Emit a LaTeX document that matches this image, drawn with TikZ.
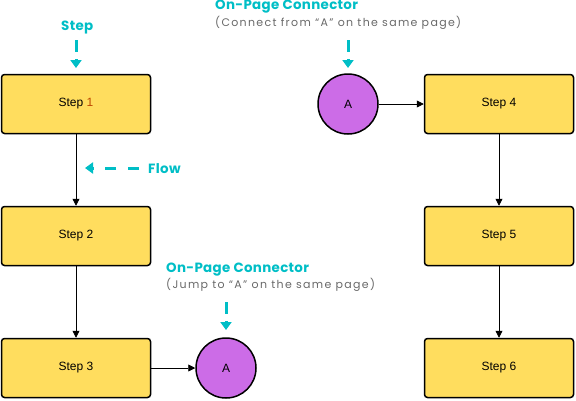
\documentclass[tikz,border=0pt]{standalone}
\usepackage{fontspec}
\setmainfont{Liberation Sans}
\newfontfamily\subfont[LetterSpace=12]{Poppins}
\newfontfamily\titlefont[LetterSpace=2.5]{Poppins}
\usetikzlibrary{arrows.meta}

\definecolor{stepfill}{RGB}{255,221,94}
\definecolor{connfill}{RGB}{204,108,231}
\definecolor{notecyan}{RGB}{0,190,198}
\definecolor{notegray}{RGB}{105,105,105}
\definecolor{onecolor}{RGB}{190,70,0}

\tikzset{
	stepbox/.style={draw, line width=1.5pt, rounded corners=3pt, fill=stepfill,
		minimum width=149pt, minimum height=59pt, font=\fontsize{12}{14}\selectfont},
	connector/.style={draw, circle, line width=1.5pt, fill=connfill,
		minimum size=60pt, inner sep=0pt, font=\fontsize{12}{14}\selectfont},
	flow/.style={-{Triangle[length=7pt, width=7pt]}, line width=0.8pt},
	notetitle/.style={text=notecyan, font=\titlefont\bfseries\fontsize{13.4}{15}\selectfont,
		inner sep=0pt, anchor=base west},
	notesub/.style={text=notegray, font=\subfont\fontsize{11}{13}\selectfont,
		inner sep=0pt, anchor=base west},
	hint/.style={draw=notecyan, line width=3pt, dash pattern=on 12pt off 7pt,
		-{Triangle[length=8pt, width=11pt, fill=notecyan]}},
}

\begin{document}
\begin{tikzpicture}[x=1pt, y=-1pt]

	\useasboundingbox (0,0) rectangle (576,400);

% steps %{{{2

	\node[stepbox] (step1) at (76,104) {Step \textcolor{onecolor}{1}};
	\node[stepbox] (step2) at (76,236) {Step 2};
	\node[stepbox] (step3) at (76,368) {Step 3};

	\node[stepbox] (step4) at (499,104) {Step 4};
	\node[stepbox] (step5) at (499,236) {Step 5};
	\node[stepbox] (step6) at (499,368) {Step 6};

% connectors %{{{2

	\node[connector] (connin)  at (348,104) {A};
	\node[connector] (connout) at (226,368) {A};

% flow lines %{{{2

	\draw[flow] (step1) -- (step2);
	\draw[flow] (step2) -- (step3);
	\draw[flow] (step3) -- (connout);

	\draw[flow] (connin) -- (step4);
	\draw[flow] (step4) -- (step5);
	\draw[flow] (step5) -- (step6);

% notes %{{{2

	\node[notetitle] (stepnote) at (61,30) {Step};
	\node[notetitle] (flownote) at (148,173) {Flow};

	\node[notetitle] (innote) at (215,9) {On-Page Connector};
	\node[notesub] (insub) at (215,26) {(Connect from “A” on the same page)};

	\node[notetitle] (outnote) at (166,272) {On-Page Connector};
	\node[notesub] (outsub) at (166,288.5) {(Jump to “A” on the same page)};

	% hint arrows
	\coordinate (steptip) at (76,68);
	\coordinate (intip)   at (348,68);
	\coordinate (outtip)  at (226,330);
	\coordinate (flowtip) at (85,168);

	\draw[hint] (76,40) -- (steptip);
	\draw[hint] (348,40) -- (intip);
	\draw[hint] (226,302) -- (outtip);
	\draw[hint, dash pattern=on 11pt off 12pt] (139,168) -- (flowtip);

% closing %{{{2

\end{tikzpicture}
\end{document}
